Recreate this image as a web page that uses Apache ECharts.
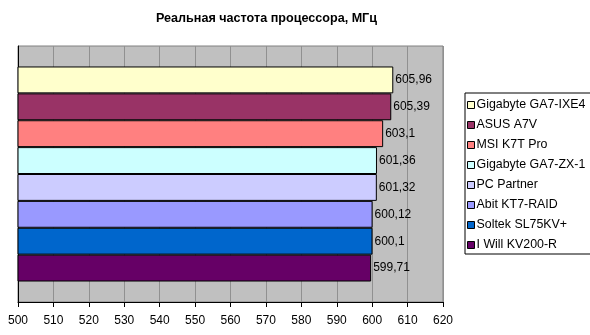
<!DOCTYPE html>
<html>
<head>
<meta charset="utf-8">
<script src="https://cdn.jsdelivr.net/npm/echarts@6/dist/echarts.min.js"></script>
<style>html,body{margin:0;padding:0;background:#fff}#c{width:590px;height:335px}</style>
</head>
<body>
<div id="c"></div>
<script>
var titleText = 'Реальная частота процессора, МГц';
var boards = ['Gigabyte GA7-IXE4','ASUS A7V','MSI K7T Pro','Gigabyte GA7-ZX-1','PC Partner','Abit KT7-RAID','Soltek SL75KV+','I Will KV200-R'];
var values = [605.96, 605.39, 603.1, 601.36, 601.32, 600.12, 600.1, 599.71];
var colors = ['#FFFFCC','#993366','#FF8080','#CCFFFF','#CCCCFF','#9999FF','#0066CC','#660066'];
var xMin = 500, xMax = 620, xStep = 10;

var chart = echarts.init(document.getElementById('c'), null, {renderer:'canvas'});
var font = 'Liberation Sans, Arial, sans-serif';
var series = boards.map(function(name, i){
  return {
    name: name, type: 'bar', data: [values[i]],
    barGap: '0%', barCategoryGap: '16%',
    itemStyle: {color: colors[i], borderColor: '#000', borderWidth: 1},
    label: {show: true, position: 'right', distance: 2, color: '#000', fontFamily: font, fontSize: 12,
      formatter: function(p){ return String(p.value).replace('.', ','); }},
    animation: false
  };
});
chart.setOption({
  animation: false,
  title: {text: titleText, left: 151, top: 7, textStyle: {fontFamily: font, fontSize: 12.6, fontWeight: 'bold', color: '#000'}},
  grid: {left: 18, right: 147, top: 46, bottom: 33, show: true, backgroundColor: '#C0C0C0', borderColor: '#808080', borderWidth: 1},
  xAxis: {type: 'value', min: xMin, max: xMax, interval: xStep,
    axisLine: {show: true, lineStyle: {color: '#000'}},
    axisTick: {show: true, length: 5, lineStyle: {color: '#000'}},
    axisLabel: {color: '#000', fontFamily: font, fontSize: 12, margin: 13},
    splitLine: {show: true, lineStyle: {color: '#909090', width: 1}}},
  yAxis: {type: 'category', data: [''], inverse: true,
    axisLine: {show: true, lineStyle: {color: '#000'}}, axisTick: {show: false}, axisLabel: {show: false}},
  legend: {orient: 'vertical', left: 465, top: 93, itemWidth: 7, itemHeight: 7, itemGap: 8,
    icon: 'rect', borderColor: '#000', borderWidth: 1, padding: [6, 6, 3, 2],
    textStyle: {fontFamily: font, fontSize: 12.4, color: '#000', padding: [0,0,0,-3]},
    itemStyle: {borderColor: '#000', borderWidth: 1},
    data: boards},
  series: series
});
</script>
</body>
</html>
